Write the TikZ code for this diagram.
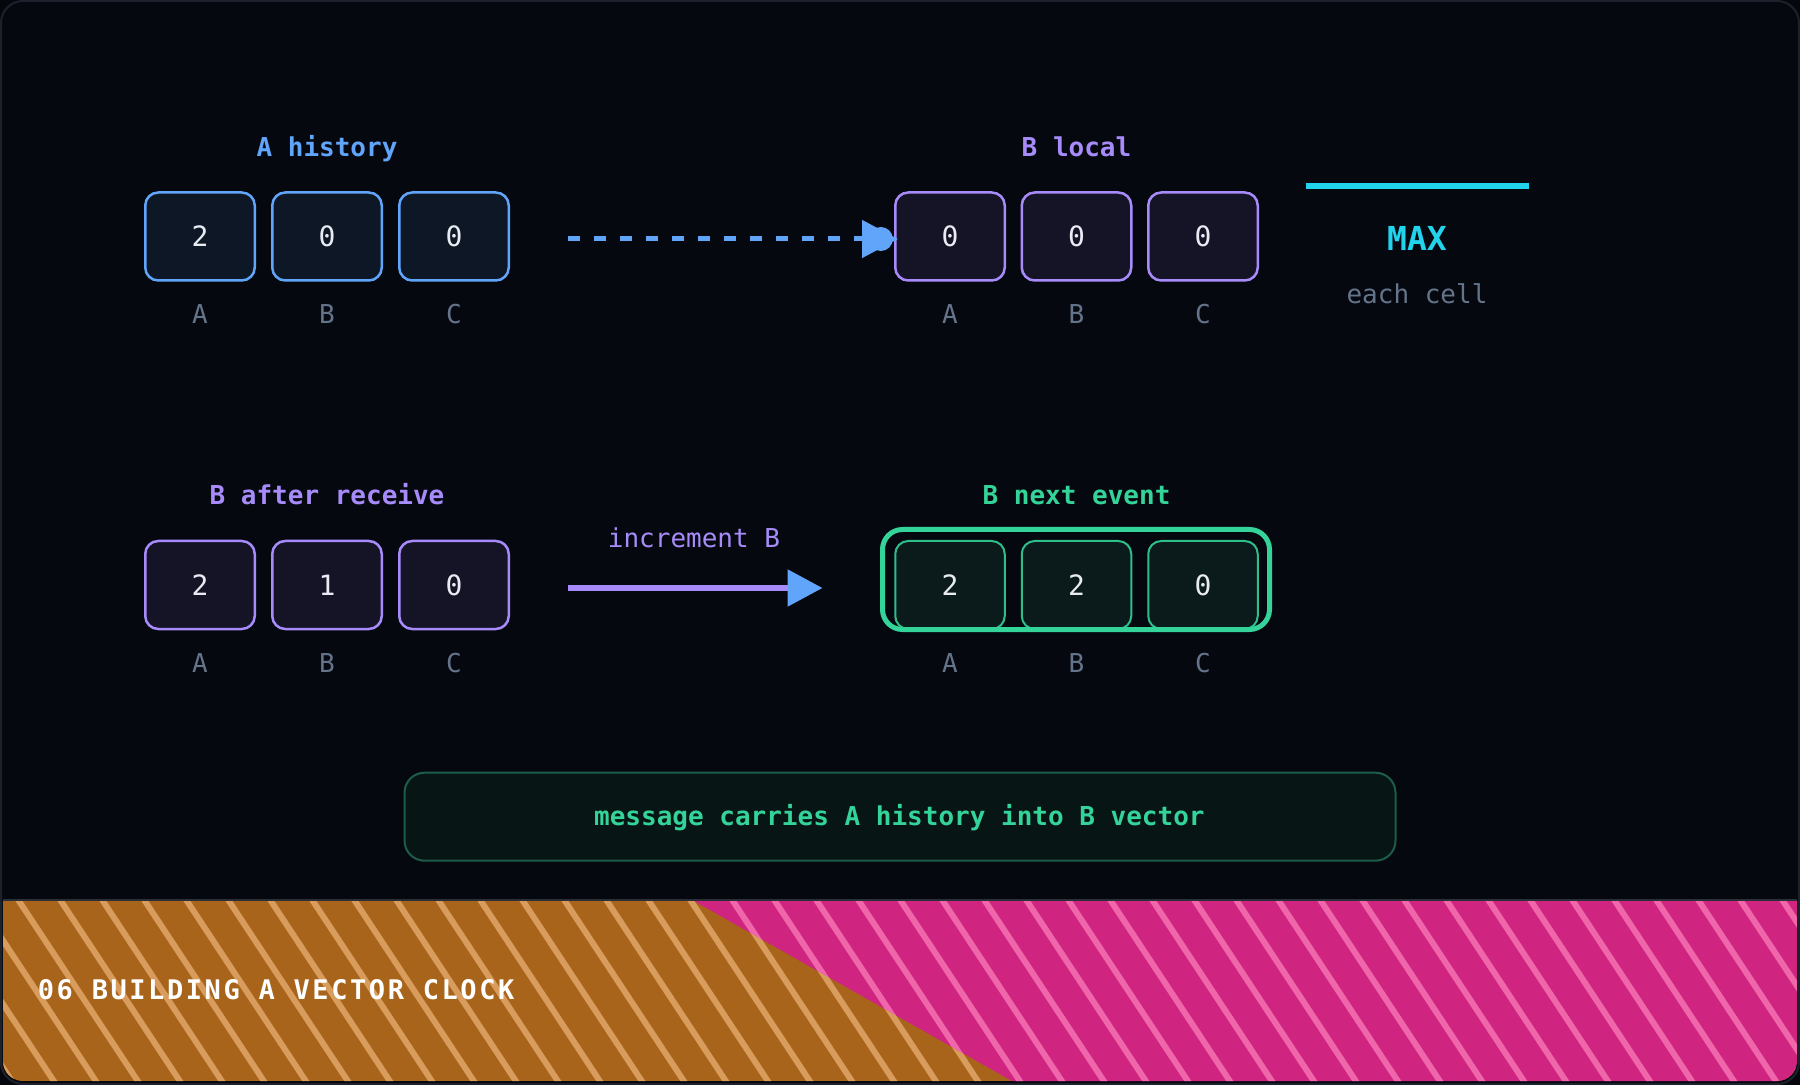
\documentclass[tikz,border=0pt]{standalone}
\usepackage{fontspec}
\setmonofont{DejaVu Sans Mono}
\newfontfamily\bannerfont[LetterSpace=9.5]{DejaVu Sans Mono}
\usetikzlibrary{arrows.meta}
\definecolor{pagebg}{HTML}{05070D}
\definecolor{bgC}{HTML}{05080F}
\definecolor{frameC}{HTML}{1C212B}
\definecolor{blueC}{HTML}{60A5FA}
\definecolor{blueF}{HTML}{0D1726}
\definecolor{purpleC}{HTML}{A78BFA}
\definecolor{purpleF}{HTML}{151326}
\definecolor{greenC}{HTML}{34D399}
\definecolor{greenS}{HTML}{2DBE8A}
\definecolor{greenF}{HTML}{0B1A1A}
\definecolor{cyanC}{HTML}{22D3EE}
\definecolor{grayC}{HTML}{64748B}
\definecolor{numC}{HTML}{E8ECF2}
\definecolor{msgF}{HTML}{071615}
\definecolor{msgS}{HTML}{1D5C48}
\definecolor{orangeC}{HTML}{A8641A}
\definecolor{orangeS}{HTML}{D89C5C}
\definecolor{pinkC}{HTML}{CF2580}
\definecolor{pinkS}{HTML}{F066AB}
\definecolor{lineC}{HTML}{2B2F38}
\begin{document}
\begin{tikzpicture}[x=0.5pt,y=-0.5pt,
  cellbase/.style={draw, rounded corners=6.5pt, line width=1.25pt,
    minimum width=54.75pt, minimum height=44pt, inner sep=0pt,
    text=numC, font=\ttfamily\fontsize{14pt}{14pt}\selectfont},
  bluecell/.style={cellbase, draw=blueC, fill=blueF},
  purplecell/.style={cellbase, draw=purpleC, fill=purpleF},
  greencell/.style={cellbase, draw=greenS, fill=greenF, line width=1pt},
  lbl/.style={text=grayC, font=\ttfamily\fontsize{13pt}{13pt}\selectfont, anchor=base, inner sep=0pt},
  ttl/.style={font=\ttfamily\bfseries\fontsize{13pt}{13pt}\selectfont, anchor=base, inner sep=0pt},
  stripe/.style={line width=3pt}
]
\useasboundingbox (0,0) rectangle (1800,1085);
\fill[pagebg] (0,0) rectangle (1800,1085);
\fill[bgC, rounded corners=11pt] (1,1) rectangle (1799,1084);

% banner
\begin{scope}
\clip[rounded corners=10pt] (3,3) rectangle (1797,1081);
\fill[orangeC] (3,901) rectangle (1797,1081);
\fill[pinkC] (694,901) -- (1797,901) -- (1797,1081) -- (1012,1081) -- cycle;
\begin{scope}
\clip (3,901) -- (694,901) -- (1012,1081) -- (3,1081) -- cycle;
\foreach \k in {-5,...,25} \draw[stripe, orangeS] ({19+42*\k-7.3},890) -- ++(132,200);
\end{scope}
\begin{scope}
\clip (694,901) -- (1797,901) -- (1797,1081) -- (1012,1081) -- cycle;
\foreach \k in {12,...,44} \draw[stripe, pinkS] ({19+42*\k-7.3},890) -- ++(132,200);
\end{scope}
\end{scope}
\draw[lineC, line width=1pt] (3,900) -- (1797,900);
\draw[frameC, line width=1pt, rounded corners=11pt] (1,1) rectangle (1799,1084);
\node[anchor=base west, inner sep=0pt, text=white, font=\bannerfont\bfseries\fontsize{13.5pt}{13.5pt}\selectfont] (bt) at (37.5,999.3) {06 BUILDING A VECTOR CLOCK};

% A history
\node[ttl, text=blueC] (ta) at (327,156.7) {A history};
\node[bluecell] (a1) at (200,236.5) {2};
\node[bluecell] (a2) at (327,236.5) {0};
\node[bluecell] (a3) at (454,236.5) {0};
\node[lbl] (la1) at (200,323.3) {A};
\node[lbl] (la2) at (327,323.3) {B};
\node[lbl] (la3) at (454,323.3) {C};

% B local
\node[ttl, text=purpleC] (tb) at (1076.5,156.7) {B local};
\node[purplecell] (b1) at (950,236.5) {0};
\node[purplecell] (b2) at (1076.5,236.5) {0};
\node[purplecell] (b3) at (1203,236.5) {0};
\node[lbl] (lb1) at (950,323.3) {A};
\node[lbl] (lb2) at (1076.5,323.3) {B};
\node[lbl] (lb3) at (1203,323.3) {C};

% MAX
\coordinate (mx1) at (1306,186);
\coordinate (mx2) at (1528.6,186);
\draw[cyanC, line width=2.75pt] (mx1) -- (mx2);
\node[anchor=base, inner sep=0pt, text=cyanC, font=\ttfamily\bfseries\fontsize{16.5pt}{16.5pt}\selectfont] (max) at (1417,250.7) {MAX};
\node[lbl] (each) at (1417,304) {each cell};

% dashed message arrow
\draw[blueC, line width=2.5pt, dash pattern=on 6pt off 7pt, -{Triangle[length=18pt,width=18.5pt]}]
  ([xshift=29pt,yshift=-1.25pt]a3.east) -- ([xshift=2pt,yshift=-1.25pt]b1.west);
\fill[blueC] ([xshift=-6.6pt,yshift=-1.25pt]b1.west) circle (6pt);

% B after receive
\node[ttl, text=purpleC] (tc) at (327,505) {B after receive};
\node[purplecell] (c1) at (200,585) {2};
\node[purplecell] (c2) at (327,585) {1};
\node[purplecell] (c3) at (454,585) {0};
\node[lbl] (lc1) at (200,672.7) {A};
\node[lbl] (lc2) at (327,672.7) {B};
\node[lbl] (lc3) at (454,672.7) {C};

% B next event
\node[ttl, text=greenC] (td) at (1076.5,505) {B next event};
\node[greencell] (d1) at (950,585) {2};
\node[greencell] (d2) at (1076.5,585) {2};
\node[greencell] (d3) at (1203,585) {0};
\node[draw=greenC, line width=2.5pt, rounded corners=10pt, minimum width=193.5pt, minimum height=50pt, inner sep=0pt] (nb) at (1076,579.5) {};
\node[lbl] (ld1) at (950,672.7) {A};
\node[lbl] (ld2) at (1076.5,672.7) {B};
\node[lbl] (ld3) at (1203,672.7) {C};

% increment arrow
\node[anchor=base, inner sep=0pt, text=purpleC, font=\ttfamily\fontsize{13pt}{13pt}\selectfont] (inc) at (694,547.3) {increment B};
\draw[purpleC, line width=2.75pt, -{Triangle[length=17.5pt,width=18pt,color=blueC]}]
  ([xshift=29pt,yshift=-1.5pt]c3.east) -- ([xshift=-28.75pt,yshift=-1.5pt]nb.west |- c3.east);

% message box
\node[draw=msgS, fill=msgF, line width=1pt, rounded corners=10pt, minimum width=495.5pt, minimum height=44pt, inner sep=0pt] (msg) at (900,816.7) {};
\node[anchor=base, inner sep=0pt, text=greenC, font=\ttfamily\bfseries\fontsize{13pt}{13pt}\selectfont] (msgt) at (899.4,825) {message carries A history into B vector};
\end{tikzpicture}
\end{document}
